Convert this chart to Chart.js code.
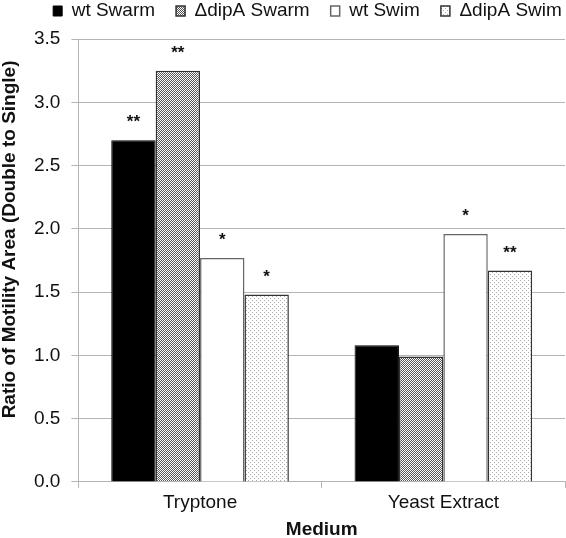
<!DOCTYPE html>
<html>
<head>
<meta charset="utf-8">
<script src="https://cdn.jsdelivr.net/npm/chart.js@4"></script>
<style>
  html, body { margin: 0; padding: 0; background: #fff; }
  #wrap { width: 566px; height: 538px; }
</style>
</head>
<body>
<div id="wrap"><canvas id="mchart" width="566" height="538"></canvas></div>
<script>
const categories = ["Tryptone", "Yeast Extract"];
const seriesNames = ["wt Swarm", "\u0394dipA Swarm", "wt Swim", "\u0394dipA Swim"];
const wtSwarm = [2.70, 1.08];
const dipASwarm = [3.25, 0.99];
const wtSwim = [1.77, 1.96];
const dipASwim = [1.48, 1.67];
// significance marks drawn above each bar
const wtSwarmStars = ["**", ""];
const dipASwarmStars = ["**", ""];
const wtSwimStars = ["*", "*"];
const dipASwimStars = ["*", "**"];
const yTicks = [0, 0.5, 1.0, 1.5, 2.0, 2.5, 3.0, 3.5];

let fontFamily = "'Liberation Sans', Arial, sans-serif";
let textColor = '#111';
let gridColor = '#b4b4b4';

function make_pattern(kind){
  const c = document.createElement('canvas');
  c.width = 4;
  c.height = 4;
  const g = c.getContext('2d');
  g.fillStyle = '#fff';
  g.fillRect(0, 0, 4, 4);
  if(kind === 'hatch'){
    g.fillStyle = '#555';
    for(let i = 0; i < 4; i++){
      g.fillRect(i, 3 - i, 1, 1);
      g.fillRect((i + 2) % 4, 3 - i, 1, 1);
    }
  } else {
    g.fillStyle = '#aaa';
    g.fillRect(0, 0, 1, 1);
    g.fillRect(2, 2, 1, 1);
  }
  return g.createPattern(c, 'repeat');
}

const starPlugin = {
  id: 'stars',
  afterDatasetsDraw(chart){
    const ctx = chart.ctx;
    const marks = [wtSwarmStars, dipASwarmStars, wtSwimStars, dipASwimStars];
    ctx.save();
    ctx.fillStyle = textColor;
    ctx.font = "bold 17px " + fontFamily;
    ctx.textAlign = 'center';
    ctx.textBaseline = 'alphabetic';
    chart.data.datasets.forEach((ds, i) => {
      const meta = chart.getDatasetMeta(i);
      meta.data.forEach((bar, j) => {
        ctx.fillText(marks[i][j], bar.x, bar.y - 13);
      });
    });
    ctx.restore();
  }
};

// legend needs a little more room below it and sits a bit right of centre
const legendTweak = {
  id: 'legendTweak',
  beforeUpdate(chart){
    const legend = chart.legend;
    if(!legend || legend._patched) return;
    const fit = legend.fit;
    legend.fit = function(){
      fit.call(this);
      this.height += 8.5;
    };
    const draw = legend.draw;
    legend.draw = function(){
      this.ctx.save();
      this.ctx.translate(25, 0);
      draw.call(this);
      this.ctx.restore();
    };
    legend._patched = true;
  }
};

// the y title in the original sits higher than the middle of the axis
const yTitleShift = {
  id: 'yTitleShift',
  afterLayout(chart){
    const scale = chart.scales.y;
    if(!scale || scale._titlePatched) return;
    const drawTitle = scale.drawTitle;
    scale.drawTitle = function(){
      this.ctx.save();
      this.ctx.translate(0, -21);
      drawTitle.call(this);
      this.ctx.restore();
    };
    scale._titlePatched = true;
  }
};

function render_graph(){
  const ctx = document.getElementById('mchart').getContext('2d');
  const hatch = make_pattern('hatch');
  const dots = make_pattern('dots');
  new Chart(ctx, {
    type: 'bar',
    data: {
      labels: categories,
      datasets: [
        { label: seriesNames[0], data: wtSwarm, backgroundColor: '#000', borderColor: '#000', borderWidth: 1 },
        { label: seriesNames[1], data: dipASwarm, backgroundColor: hatch, borderColor: '#333', borderWidth: 1.5 },
        { label: seriesNames[2], data: wtSwim, backgroundColor: '#fff', borderColor: '#666', borderWidth: 1.5 },
        { label: seriesNames[3], data: dipASwim, backgroundColor: dots, borderColor: '#333', borderWidth: 1.5 }
      ]
    },
    options: {
      responsive: false,
      animation: false,
      devicePixelRatio: 1,
      layout: { padding: { left: 0, right: 1, top: -19.5, bottom: 0 } },
      datasets: { bar: { categoryPercentage: 0.73, barPercentage: 1.0 } },
      plugins: {
        legend: {
          position: 'top',
          labels: {
            font: { family: fontFamily, size: 19 },
            color: textColor,
            boxWidth: 9,
            boxHeight: 10,
            padding: 21
          }
        },
        tooltip: { enabled: false }
      },
      scales: {
        x: {
          grid: { offset: true, drawOnChartArea: false, drawTicks: true, tickLength: 6, color: gridColor },
          border: { color: gridColor },
          ticks: { font: { family: fontFamily, size: 19, lineHeight: 1 }, color: textColor, padding: 5.5 },
          title: {
            display: true,
            text: 'Medium',
            font: { family: fontFamily, size: 19, weight: 'bold', lineHeight: 0.9 },
            color: textColor,
            padding: { top: 3, bottom: 0 }
          }
        },
        y: {
          min: 0,
          max: 3.5,
          afterBuildTicks(axis){ axis.ticks = yTicks.map(v => ({ value: v })); },
          grid: { color: gridColor, tickLength: 7 },
          border: { color: gridColor },
          ticks: {
            font: { family: fontFamily, size: 19 },
            color: textColor,
            padding: 11,
            callback: v => Number(v).toFixed(1)
          },
          title: {
            display: true,
            text: 'Ratio of Motility Area (Double to Single)',
            font: { family: fontFamily, size: 19, weight: 'bold', lineHeight: 1 },
            color: textColor,
            padding: { top: 0, bottom: 4 }
          }
        }
      }
    },
    plugins: [starPlugin, legendTweak, yTitleShift]
  });
}

window.addEventListener("DOMContentLoaded", render_graph);
</script>
</body>
</html>
